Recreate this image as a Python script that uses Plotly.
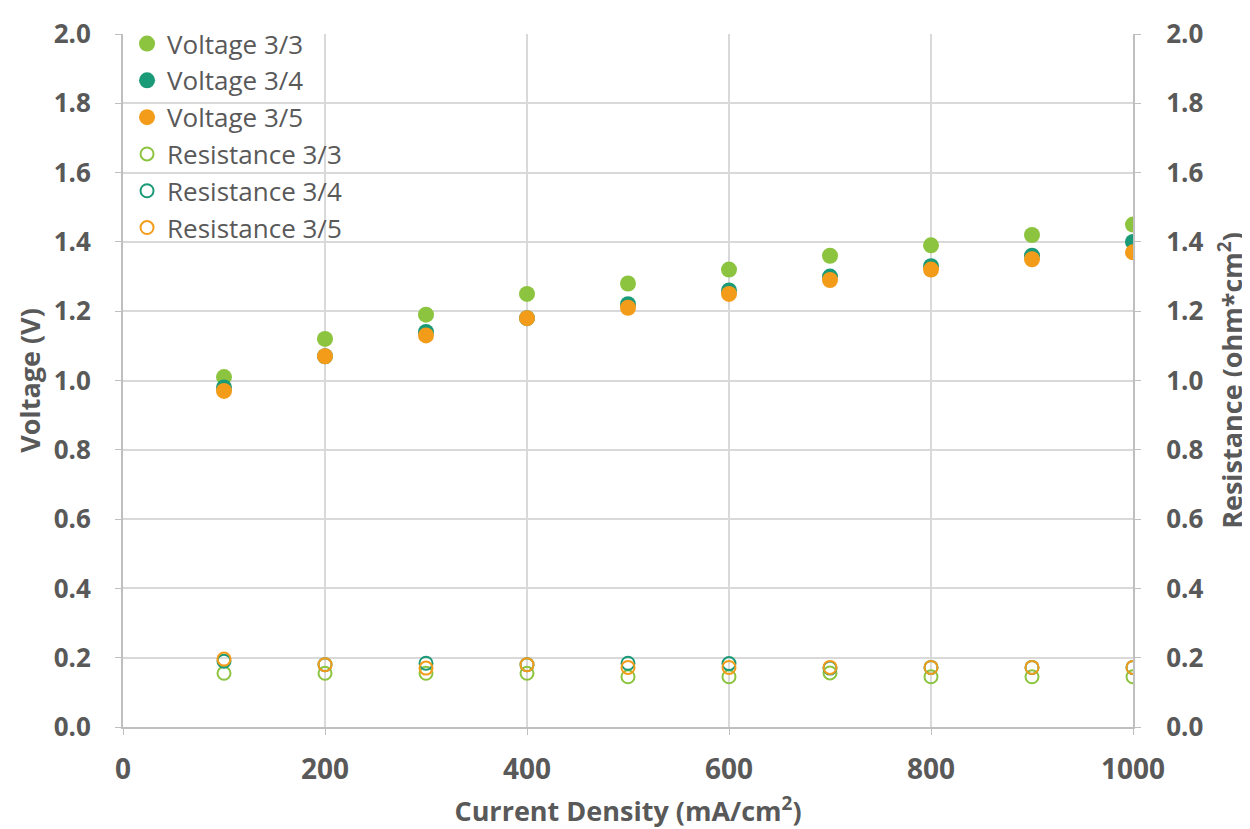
import plotly.graph_objects as go

current = [100, 200, 300, 400, 500, 600, 700, 800, 900, 1000]

voltage_3_3 = [1.01, 1.12, 1.19, 1.25, 1.28, 1.32, 1.36, 1.39, 1.42, 1.45]
voltage_3_4 = [0.98, 1.07, 1.14, 1.18, 1.22, 1.26, 1.30, 1.33, 1.36, 1.40]
voltage_3_5 = [0.97, 1.07, 1.13, 1.18, 1.21, 1.25, 1.29, 1.32, 1.35, 1.37]

resistance_3_3 = [0.155, 0.155, 0.155, 0.155, 0.145, 0.145, 0.156, 0.145, 0.145, 0.145]
resistance_3_4 = [0.19, 0.18, 0.184, 0.18, 0.184, 0.183, 0.17, 0.172, 0.172, 0.172]
resistance_3_5 = [0.196, 0.18, 0.17, 0.18, 0.172, 0.172, 0.172, 0.172, 0.172, 0.172]

y_ticks = [0.0, 0.2, 0.4, 0.6, 0.8, 1.0, 1.2, 1.4, 1.6, 1.8, 2.0]
x_ticks = [0, 200, 400, 600, 800, 1000]

c_green = "#8cc43f"
c_teal = "#1b9a78"
c_orange = "#f39c1a"
txt = "#595959"
grid = "#d9d9d9"
FONT = "Open Sans"

fig = go.Figure()
for name, vals, col in [("Voltage 3/3", voltage_3_3, c_green),
                        ("Voltage 3/4", voltage_3_4, c_teal),
                        ("Voltage 3/5", voltage_3_5, c_orange)]:
    fig.add_trace(go.Scatter(x=current, y=vals, mode="markers", name=name,
                             marker=dict(symbol="circle", size=16, color=col,
                                         line=dict(width=0))))
for name, vals, col in [("Resistance 3/3", resistance_3_3, c_green),
                        ("Resistance 3/4", resistance_3_4, c_teal),
                        ("Resistance 3/5", resistance_3_5, c_orange)]:
    fig.add_trace(go.Scatter(x=current, y=vals, mode="markers", name=name, yaxis="y2",
                             marker=dict(symbol="circle-open", size=13, color=col,
                                         line=dict(width=2, color=col))))

def axis_common(size, standoff):
    return dict(showline=True, linecolor="#bfbfbf", linewidth=2,
                ticks="outside", ticklen=6, tickcolor="#bfbfbf", tickwidth=1,
                tickfont=dict(family=FONT, size=size, color=txt, weight="bold"),
                ticklabelstandoff=standoff, ticklabeloverflow="allow",
                zeroline=False, automargin=False)

title_font = dict(family=FONT, size=27, color=txt, weight="bold")

fig.update_layout(
    width=1242, height=821,
    paper_bgcolor="white", plot_bgcolor="white",
    margin=dict(l=115, r=117, t=18, b=102),
    font=dict(family=FONT, color=txt),
    showlegend=True,
    legend=dict(x=0.004, y=1.02, xanchor="left", yanchor="top",
                bgcolor="rgba(0,0,0,0)", font=dict(family=FONT, size=26, color=txt),
                tracegroupgap=0, itemsizing="trace"),
    xaxis=dict(range=[0, 1000], tickvals=x_ticks, showgrid=True, gridcolor=grid, gridwidth=2,
               title=dict(text="Current Density (mA/cm<sup>2</sup>)", font=title_font, standoff=18),
               **axis_common(28, 10)),
    yaxis=dict(range=[0, 2], tickvals=y_ticks, tickformat=".1f", showgrid=True,
               gridcolor=grid, gridwidth=2,
               title=dict(text="Voltage (V)", font=title_font, standoff=5),
               **axis_common(26, 19)),
    yaxis2=dict(range=[0, 2], tickvals=y_ticks, tickformat=".1f", overlaying="y", side="right",
                showgrid=False,
                title=dict(text="Resistance (ohm*cm<sup>2</sup>)", font=title_font, standoff=22),
                **axis_common(26, 20)),
)

fig.write_html("out.html")
